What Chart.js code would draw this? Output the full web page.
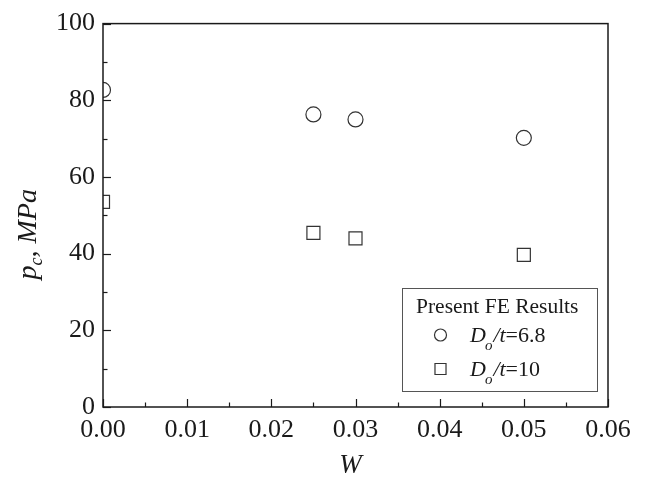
<!DOCTYPE html>
<html>
<head>
<meta charset="utf-8">
<title>p_c vs W</title>
<script src="https://cdn.jsdelivr.net/npm/chart.js@4.4.0/dist/chart.umd.min.js"></script>
<style>
  html, body { margin: 0; padding: 0; background: #fff; }
  #wrap { width: 650px; height: 478px; }
</style>
</head>
<body>
<div id="wrap"><canvas id="chart" width="650" height="478"></canvas></div>
<script>
// valores
const wValues = [0, 0.025, 0.03, 0.05];
const pcDo68 = [82.7, 76.3, 75.0, 70.2];
const pcDo10 = [53.5, 45.4, 44.0, 39.7];
const seriesLabels = ['6.8', '10'];
const legendTitle = 'Present FE Results';
const xRange = [0, 0.06];
const yRange = [0, 100];
const xStep = 0.01;
const yStep = 20;

const SERIF = '"Liberation Serif", "DejaVu Serif", serif';
const INK = '#1a1a1a';

const toPoints = (xs, ys) => xs.map((x, i) => ({ x: x, y: ys[i] }));

// ticks para dentro + moldura
const frameTicks = {
    id: 'frameTicks',
    afterDraw(chart) {
        const { ctx, chartArea: a, scales } = chart;
        ctx.save();
        ctx.strokeStyle = INK;
        ctx.lineWidth = 1.5;
        ctx.strokeRect(a.left, a.top, a.right - a.left, a.bottom - a.top);

        ctx.lineWidth = 1.2;
        const xs = scales.x, ys = scales.y;
        const xt = xs.ticks.map(t => t.value);
        const yt = ys.ticks.map(t => t.value);
        const drawX = (v, len) => {
            const px = Math.round(xs.getPixelForValue(v)) + 0.5;
            ctx.beginPath(); ctx.moveTo(px, a.bottom); ctx.lineTo(px, a.bottom - len); ctx.stroke();
        };
        const drawY = (v, len) => {
            const py = Math.round(ys.getPixelForValue(v)) + 0.5;
            ctx.beginPath(); ctx.moveTo(a.left, py); ctx.lineTo(a.left + len, py); ctx.stroke();
        };
        xt.forEach((v, i) => {
            drawX(v, 8);
            if (i < xt.length - 1) drawX((v + xt[i + 1]) / 2, 4.5);
        });
        yt.forEach((v, i) => {
            drawY(v, 8);
            if (i < yt.length - 1) drawY((v + yt[i + 1]) / 2, 4.5);
        });
        ctx.restore();
    }
};

// títulos dos eixos com subscrito
const axisTitles = {
    id: 'axisTitles',
    afterDraw(chart) {
        const { ctx, chartArea: a } = chart;
        ctx.save();
        ctx.fillStyle = INK;
        ctx.textBaseline = 'alphabetic';

        // eixo x
        ctx.font = 'italic 27px ' + SERIF;
        ctx.textAlign = 'center';
        ctx.fillText('W', (a.left + a.right) / 2 - 5, 473);

        // eixo y
        const big = 'italic 28px ' + SERIF;
        const small = 'italic 18px ' + SERIF;
        ctx.font = big; const w1 = ctx.measureText('p').width;
        ctx.font = small; const w2 = ctx.measureText('c').width;
        ctx.font = big; const w3 = ctx.measureText(', MPa').width;
        const total = w1 + w2 + w3;
        ctx.translate(36, (a.top + a.bottom) / 2 + 19);
        ctx.rotate(-Math.PI / 2);
        ctx.textAlign = 'left';
        let x = -total / 2;
        ctx.font = big; ctx.fillText('p', x, 0); x += w1;
        ctx.font = small; ctx.fillText('c', x, 6); x += w2;
        ctx.font = big; ctx.fillText(', MPa', x, 0);
        ctx.restore();
    }
};

// legenda desenhada à mão (precisa de subscrito)
const boxLegend = {
    id: 'boxLegend',
    afterDraw(chart) {
        const { ctx, chartArea: a } = chart;
        const bx = a.right - 206, by = a.bottom - 119, bw = 195, bh = 103;
        ctx.save();
        ctx.strokeStyle = '#555';
        ctx.lineWidth = 1;
        ctx.strokeRect(Math.round(bx) + 0.5, Math.round(by) + 0.5, bw, bh);

        ctx.textBaseline = 'alphabetic';
        ctx.textAlign = 'left';
        ctx.fillStyle = INK;
        ctx.font = '21.5px ' + SERIF;
        ctx.fillText(legendTitle, bx + 14, by + 24.5);

        chart.data.datasets.forEach((ds, i) => {
            const cy = by + 47 + i * 34;
            ctx.fillStyle = 'rgba(0,0,0,0)';
            ctx.strokeStyle = '#333';
            ctx.lineWidth = 1.2;
            Chart.helpers.drawPoint(ctx, {
                pointStyle: ds.pointStyle,
                radius: ds.pointStyle === 'rect' ? 7.8 : 6,
                rotation: 0,
                borderWidth: 1.2
            }, bx + 38.5, cy);

            ctx.fillStyle = INK;
            let x = bx + 68;
            const yb = cy + 6.5;
            ctx.font = 'italic 22px ' + SERIF;
            ctx.fillText('D', x, yb); x += ctx.measureText('D').width - 1;
            ctx.font = 'italic 15px ' + SERIF;
            ctx.fillText('o', x, yb + 8); x += ctx.measureText('o').width + 1;
            ctx.font = 'italic 22px ' + SERIF;
            ctx.fillText('/t', x, yb); x += ctx.measureText('/t').width;
            ctx.font = '22px ' + SERIF;
            ctx.fillText('=' + seriesLabels[i], x, yb);
        });
        ctx.restore();
    }
};

const markerBase = {
    showLine: false,
    borderColor: '#333',
    backgroundColor: 'rgba(0,0,0,0)',
    borderWidth: 1.2,
    clip: 0
};

new Chart(document.getElementById('chart'), {
    type: 'scatter',
    data: {
        datasets: [
            Object.assign({}, markerBase, {
                label: 'Do/t=' + seriesLabels[0],
                data: toPoints(wValues, pcDo68),
                pointStyle: 'circle',
                pointRadius: 7.5,
                pointHoverRadius: 7.5
            }),
            Object.assign({}, markerBase, {
                label: 'Do/t=' + seriesLabels[1],
                data: toPoints(wValues, pcDo10),
                pointStyle: 'rect',
                pointRadius: 9.2,
                pointHoverRadius: 9.2
            })
        ]
    },
    options: {
        responsive: false,
        animation: false,
        layout: { padding: { top: 20, right: 42, left: 0, bottom: 0 } },
        plugins: {
            legend: { display: false },
            tooltip: { enabled: false }
        },
        scales: {
            x: {
                type: 'linear',
                min: xRange[0],
                max: xRange[1],
                grid: { display: false, drawTicks: false },
                border: { display: false },
                ticks: {
                    stepSize: xStep,
                    color: INK,
                    padding: 8,
                    font: { family: SERIF, size: 26 },
                    callback: v => v.toFixed(2)
                },
                afterFit: s => { s.height = 71; }
            },
            y: {
                type: 'linear',
                min: yRange[0],
                max: yRange[1],
                grid: { display: false, drawTicks: false },
                border: { display: false },
                ticks: {
                    stepSize: yStep,
                    color: INK,
                    padding: 8,
                    font: { family: SERIF, size: 26 }
                },
                afterFit: s => { s.width = 103; }
            }
        }
    },
    plugins: [frameTicks, axisTitles, boxLegend]
});
</script>
</body>
</html>
